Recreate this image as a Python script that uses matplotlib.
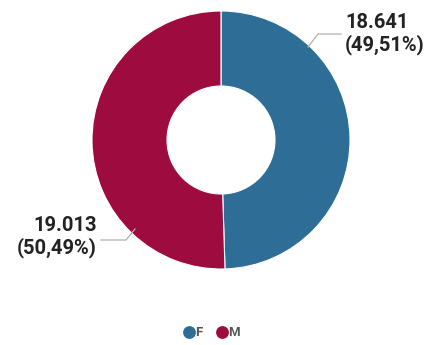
import matplotlib
matplotlib.use("Agg")
import matplotlib.pyplot as plt

categories = ["F", "M"]
values = [18641, 19013]
value_labels = ["18.641", "19.013"]
pct_labels = ["(49,51%)", "(50,49%)"]
colors = ["#2e6d95", "#9e0b3e"]

W, H = 431, 345
fig = plt.figure(figsize=(W / 100, H / 100), dpi=100)
ax = fig.add_axes([0, 0, 1, 1])
ax.set_xlim(0, W)
ax.set_ylim(0, H)
ax.set_aspect("equal")
ax.axis("off")

cx, cy, r = 221, H - 140, 129
ax.pie(values, colors=colors, startangle=90, counterclock=False,
       center=(cx, cy), radius=r,
       wedgeprops=dict(width=r - 54, edgecolor="white", linewidth=0.8))
ax.set_xlim(0, W)
ax.set_ylim(0, H)

font = dict(family="Roboto", fontweight="bold", color="#222222", fontsize=14.5)
lc = "#b0b0b0"
# F label
ax.plot([308, 318, 341], [H - 47, H - 34, H - 34], color=lc, lw=0.9)
ax.text(345, H - 34, f"{value_labels[0]}\n{pct_labels[0]}", ha="left", va="center",
        linespacing=1.2, **font)
# M label
ax.plot([135, 126, 101], [H - 229, H - 240, H - 240], color=lc, lw=0.9)
ax.text(97, H - 237, f"{value_labels[1]}\n{pct_labels[1]}", ha="right", va="center",
        multialignment="right", linespacing=1.2, **font)

# legend
lx = [189, 222]
for x, c, lab in zip(lx, colors, categories):
    ax.scatter([x], [H - 332], s=85, color=c, zorder=3, linewidths=0)
    ax.text(x + 6, H - 332, lab, ha="left", va="center", family="Roboto",
            fontweight="bold", fontsize=9.5, color="#555555")

fig.savefig("out.png", dpi=100)
